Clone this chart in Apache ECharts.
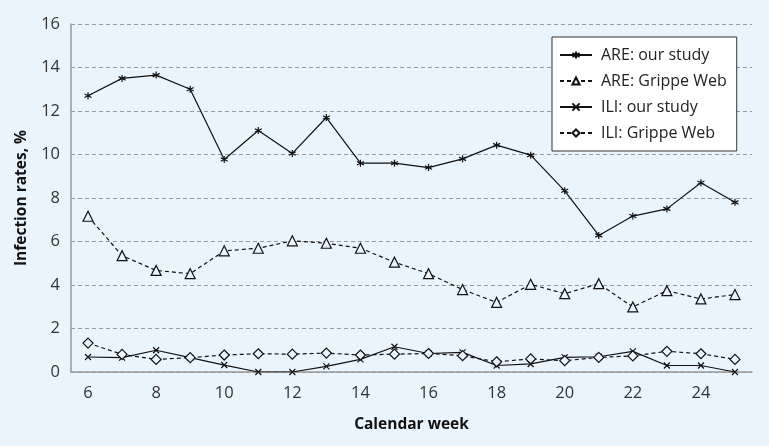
<!DOCTYPE html>
<html>
<head>
<meta charset="utf-8">
<script src="https://cdn.jsdelivr.net/npm/echarts@6/dist/echarts.min.js"></script>
<style>
  html, body { margin: 0; padding: 0; background: #eaf4fd; }
  #chart { width: 769px; height: 446px; }
</style>
</head>
<body>
<div id="chart"></div>
<script>
const weeks = ['6', '7', '8', '9', '10', '11', '12', '13', '14', '15', '16', '17', '18', '19', '20', '21', '22', '23', '24', '25']
const areOurStudy = [12.7, 13.5, 13.65, 13.0, 9.77, 11.1, 10.05, 11.7, 9.6, 9.6, 9.4, 9.8, 10.43, 9.97, 8.33, 6.28, 7.17, 7.5, 8.7, 7.8]
const areGrippeWeb = [7.16, 5.35, 4.67, 4.52, 5.57, 5.69, 6.03, 5.92, 5.69, 5.05, 4.52, 3.79, 3.2, 4.03, 3.6, 4.06, 2.99, 3.74, 3.36, 3.56]
const iliOurStudy = [0.69, 0.66, 1.0, 0.66, 0.32, 0.0, 0.0, 0.26, 0.58, 1.16, 0.85, 0.9, 0.3, 0.37, 0.67, 0.7, 0.95, 0.3, 0.3, 0.0]
const iliGrippeWeb = [1.33, 0.81, 0.58, 0.66, 0.78, 0.84, 0.82, 0.87, 0.78, 0.82, 0.85, 0.75, 0.47, 0.6, 0.52, 0.67, 0.74, 0.95, 0.84, 0.58]

const bg = '#eaf4fd'
const ink = '#111'
const font = 'Open Sans'

// marker shapes
const asterisk = 'path://M5,0L5,10M0.7,2.5L9.3,7.5M0.7,7.5L9.3,2.5'
const cross = 'path://M0,0L10,10M10,0L0,10'

const chart = echarts.init(document.getElementById('chart'))

const mkSeries = (name, data, symbol, size, dashed, filled) => ({
  name,
  type: 'line',
  data,
  symbol,
  symbolSize: size,
  showAllSymbol: true,
  lineStyle: { color: ink, width: 1.2, type: dashed ? [4, 3] : 'solid' },
  itemStyle: { color: filled ? bg : 'none', borderColor: ink, borderWidth: 1.2 },
  emphasis: { disabled: true },
  z: 3,
})

chart.setOption({
  backgroundColor: bg,
  animation: false,
  textStyle: { fontFamily: font },
  grid: { left: 71, right: 17, top: 24, bottom: 74 },
  legend: {
    orient: 'vertical',
    left: 552,
    top: 37,
    padding: [7, 10, 7, 7],
    itemWidth: 32,
    itemHeight: 9,
    itemGap: 4,
    backgroundColor: '#fff',
    borderColor: '#333',
    borderWidth: 1,
    borderRadius: 0,
    textStyle: { fontFamily: font, fontSize: 16, lineHeight: 22, color: '#222', padding: [0, 0, 0, 4] },
    data: ['ARE: our study', 'ARE: Grippe Web', 'ILI: our study', 'ILI: Grippe Web'],
  },
  xAxis: {
    type: 'category',
    data: weeks,
    boundaryGap: true,
    name: 'Calendar week',
    nameLocation: 'middle',
    nameGap: 45,
    nameTextStyle: { fontFamily: font, fontSize: 15.5, fontWeight: 'bold', color: '#111' },
    axisLine: { lineStyle: { color: '#999', width: 1.5 } },
    axisTick: { interval: 0, length: 5, lineStyle: { color: '#999', width: 1.5 } },
    axisLabel: { interval: 1, margin: 13, fontSize: 16.5, color: '#333', fontFamily: font },
  },
  yAxis: {
    type: 'value',
    min: 0,
    max: 16,
    interval: 2,
    name: 'Infection rates, %',
    nameLocation: 'middle',
    nameGap: 41,
    nameTextStyle: { fontFamily: font, fontSize: 15.5, fontWeight: 'bold', color: '#111' },
    axisLine: { show: true, lineStyle: { color: '#999', width: 1.5 } },
    axisTick: { show: false },
    axisLabel: { margin: 11, fontSize: 16.5, color: '#333', fontFamily: font },
    splitLine: { lineStyle: { color: '#999', type: [4, 3], width: 1 } },
  },
  series: [
    mkSeries('ARE: our study', areOurStudy, asterisk, 7, false, false),
    mkSeries('ARE: Grippe Web', areGrippeWeb, 'triangle', 10, true, true),
    mkSeries('ILI: our study', iliOurStudy, cross, 6, false, false),
    mkSeries('ILI: Grippe Web', iliGrippeWeb, 'diamond', 10, true, true),
  ],
})
</script>
</body>
</html>
